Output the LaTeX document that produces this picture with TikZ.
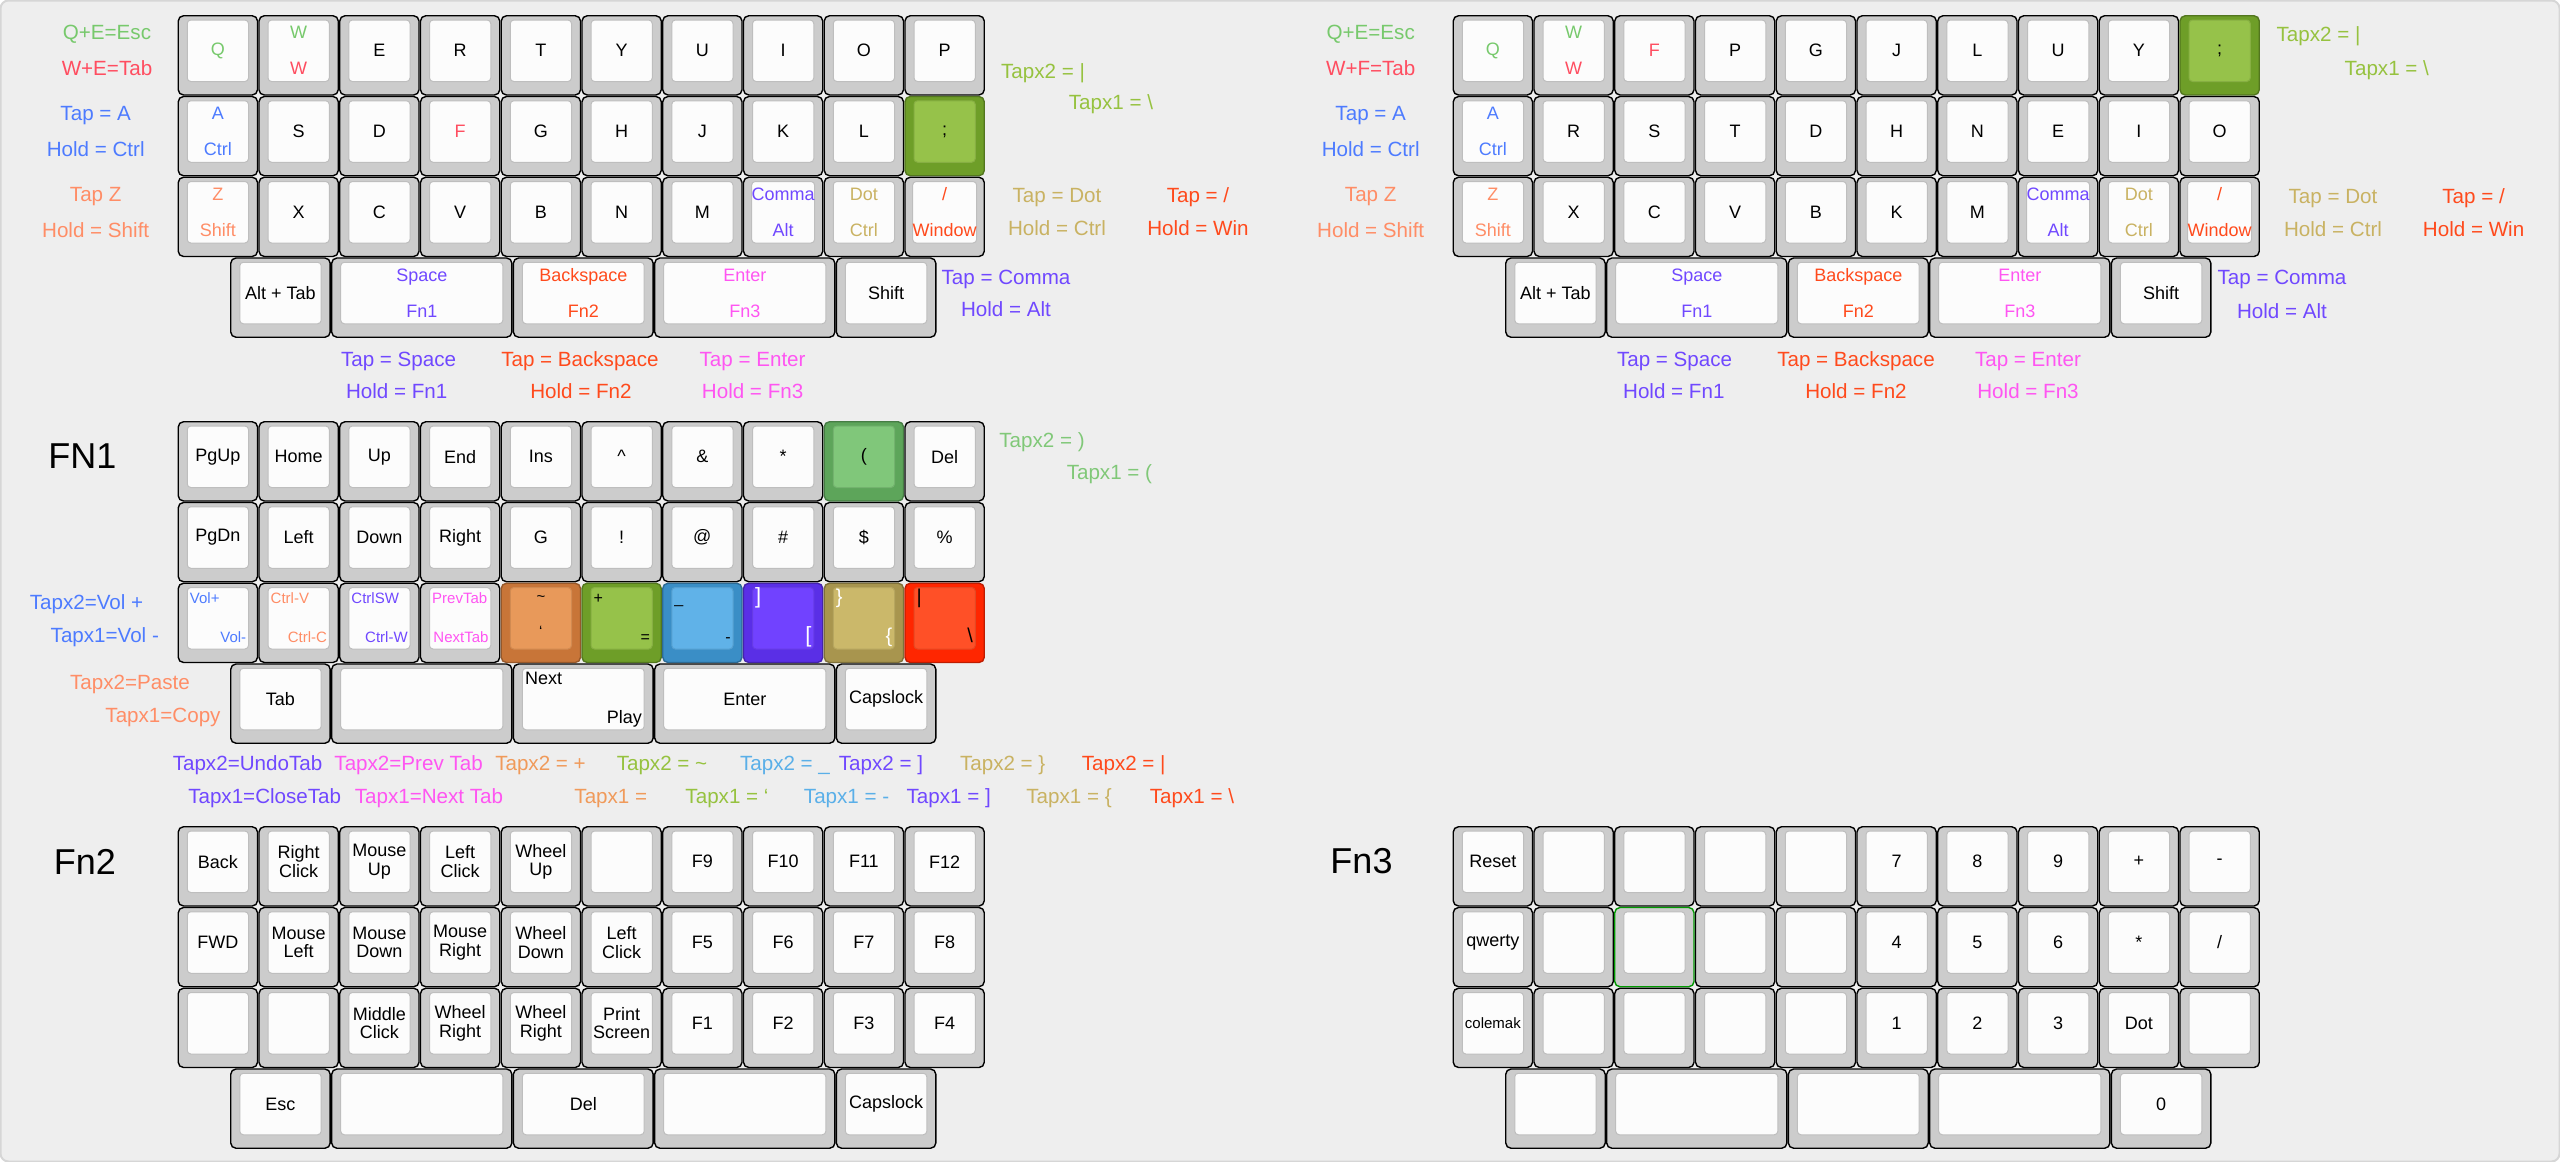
\documentclass[tikz,border=0pt]{standalone}
\usepackage{fontspec}
\setmainfont{Liberation Sans}
\usepackage{tikz}
\definecolor{bgGray}{HTML}{EEEEEE}
\definecolor{bgLine}{HTML}{D6D6D6}
\definecolor{keyGray}{HTML}{CCCCCC}
\definecolor{capWhite}{HTML}{FCFCFC}
\definecolor{capLine}{HTML}{BEBEBE}
\definecolor{tGreen}{HTML}{77C96C}
\definecolor{tPink}{HTML}{FF4D60}
\definecolor{tBlue}{HTML}{4D7BFF}
\definecolor{tSalmon}{HTML}{FF8D66}
\definecolor{tPurple}{HTML}{7048FF}
\definecolor{tTan}{HTML}{C9B262}
\definecolor{tRed}{HTML}{FF4A1C}
\definecolor{tMagenta}{HTML}{FF55F2}
\definecolor{tLime}{HTML}{96C23F}
\definecolor{tOrange}{HTML}{F09A5A}
\definecolor{tSky}{HTML}{5AAFE8}
\definecolor{tMint}{HTML}{80C878}
\definecolor{limeDark}{HTML}{6E9E28}
\definecolor{limeCap}{HTML}{96C24A}
\definecolor{mintDark}{HTML}{5DA55A}
\definecolor{mintCap}{HTML}{80C77A}
\definecolor{orangeDark}{HTML}{C87538}
\definecolor{orangeCap}{HTML}{E8995A}
\definecolor{skyDark}{HTML}{3A8EC6}
\definecolor{skyCap}{HTML}{60B2E8}
\definecolor{violetDark}{HTML}{5A2FE6}
\definecolor{violetCap}{HTML}{7142FF}
\definecolor{tanDark}{HTML}{A8954E}
\definecolor{tanCap}{HTML}{CBB86A}
\definecolor{redDark}{HTML}{FF2600}
\definecolor{redCap}{HTML}{FF5027}

\tikzset{
  keyo/.style={draw=black, line width=0.7pt, rounded corners=2.6pt, minimum height=39.6pt, inner sep=0pt},
  keyc/.style={line width=0.5pt, rounded corners=1.8pt, minimum height=30.75pt, inner sep=0pt,
    align=center, font=\fontsize{9}{9.2}\selectfont},
  ko-plain/.style={fill=keyGray}, kc-plain/.style={fill=capWhite, draw=capLine},
  ko-ring/.style={fill=keyGray, draw=green!60!black}, kc-ring/.style={fill=capWhite, draw=capLine},
  ko-lime/.style={fill=limeDark, draw=limeDark!75!black}, kc-lime/.style={fill=limeCap, draw=limeCap!90!black},
  ko-mint/.style={fill=mintDark, draw=mintDark!75!black}, kc-mint/.style={fill=mintCap, draw=mintCap!90!black},
  ko-orange/.style={fill=orangeDark, draw=orangeDark!75!black}, kc-orange/.style={fill=orangeCap, draw=orangeCap!90!black},
  ko-sky/.style={fill=skyDark, draw=skyDark!75!black}, kc-sky/.style={fill=skyCap, draw=skyCap!90!black},
  ko-violet/.style={fill=violetDark, draw=violetDark!75!black}, kc-violet/.style={fill=violetCap, draw=violetCap!90!black},
  ko-tan/.style={fill=tanDark, draw=tanDark!75!black}, kc-tan/.style={fill=tanCap, draw=tanCap!90!black},
  ko-red/.style={fill=redDark, draw=redDark!75!black}, kc-red/.style={fill=redCap, draw=redCap!90!black},
  note/.style={font=\fontsize{10.3}{12}\selectfont, inner sep=0pt, text height=7.4pt, text depth=0.6pt},
  layer/.style={font=\fontsize{18}{20}\selectfont, inner sep=0pt, text height=12.9pt, text depth=0pt},
  legend/.style={font=\fontsize{7.5}{8}\selectfont, inner sep=0pt}
}

% key: [colours]{name}{left}{top}{width in u}{text}
\newcommand{\kb}[6][plain]{%
  \pgfmathsetmacro{\kw}{#5*80.75}%
  \node[keyo, ko-#1, minimum width=\kw*0.5pt-0.75pt] (#2-o) at ({#3+\kw/2},{#4+40.375}) {};
  \node[keyc, kc-#1, minimum width=\kw*0.5pt-9.75pt] (#2) at ({#3+\kw/2},{#4+35.75}) {#6};
}
\newcommand{\two}[4]{\textcolor{#1}{#2}\\[8.8pt]\textcolor{#3}{#4}}
\newcommand{\kcorner}[4][]{%
  \node[legend, anchor=mid west, #1] (#2-tl) at ([xshift=1.4pt, yshift=-5.8pt]#2.north west) {#3};
  \node[legend, anchor=mid east, #1] (#2-br) at ([xshift=-1.2pt, yshift=6pt]#2.south east) {#4};
}

\begin{document}
\begin{tikzpicture}[x=0.5pt, y=-0.5pt]
\useasboundingbox (0,0) rectangle (2560,1162);
\draw[bgLine, fill=bgGray, line width=1pt, rounded corners=4pt] (0.5,0.5) rectangle (2559.5,1161.5);

% qwerty
\kb{qa0}{177.5}{15}{1}{\textcolor{tGreen}{Q}}
\kb{qa1}{258.25}{15}{1}{\two{tGreen}{W}{tPink}{W}}
\foreach \t [count=\i from 2] in {E,R,T,Y,U,I,O,P}
  {\kb{qa\i}{177.5+\i*80.75}{15}{1}{\t}}
\kb{qb0}{177.5}{95.75}{1}{\two{tBlue}{A}{tBlue}{Ctrl}}
\foreach \t [count=\i] in {S,D,\textcolor{tPink}{F},G,H,J,K,L}
  {\kb{qb\i}{177.5+\i*80.75}{95.75}{1}{\t}}
\kb[lime]{qb9}{904.25}{95.75}{1}{;}
\kb{qc0}{177.5}{176.5}{1}{\two{tSalmon}{Z}{tSalmon}{Shift}}
\foreach \t [count=\i] in {X,C,V,B,N,M}
  {\kb{qc\i}{177.5+\i*80.75}{176.5}{1}{\t}}
\kb{qc7}{742.75}{176.5}{1}{\two{tPurple}{Comma}{tPurple}{Alt}}
\kb{qc8}{823.5}{176.5}{1}{\two{tTan}{Dot}{tTan}{Ctrl}}
\kb{qc9}{904.25}{176.5}{1}{\two{tRed}{/}{tRed}{Window}}
\kb{qd0}{230}{257.25}{1.25}{Alt + Tab}
\kb{qd1}{330.94}{257.25}{2.25}{\two{tPurple}{Space}{tPurple}{Fn1}}
\kb{qd2}{512.63}{257.25}{1.75}{\two{tRed}{Backspace}{tRed}{Fn2}}
\kb{qd3}{653.94}{257.25}{2.25}{\two{tMagenta}{Enter}{tMagenta}{Fn3}}
\kb{qd4}{835.63}{257.25}{1.25}{Shift}

\node[note, tGreen] (ql-esc) at (107,32.7) {Q+E=Esc};
\node[note, tPink] (ql-tab) at (107,69) {W+E=Tab};
\node[note, tBlue] (ql-tapa) at (95.7,114) {Tap = A};
\node[note, tBlue] (ql-holda) at (95.7,150) {Hold = Ctrl};
\node[note, tSalmon] (ql-tapz) at (95.7,195) {Tap Z};
\node[note, tSalmon] (ql-holdz) at (95.7,230.7) {Hold = Shift};
\node[note, tLime] (ql-semi2) at (1043,72) {Tapx2 = |};
\node[note, tLime] (ql-semi1) at (1111,103) {Tapx1 = \textbackslash};
\node[note, tTan] (ql-dot) at (1057,196) {Tap = Dot};
\node[note, tTan] (ql-dotc) at (1057,229) {Hold = Ctrl};
\node[note, tRed] (ql-sl) at (1198,196) {Tap = /};
\node[note, tRed] (ql-slw) at (1198,229) {Hold = Win};
\node[note, tPurple] (ql-com) at (1006,277.5) {Tap = Comma};
\node[note, tPurple] (ql-coma) at (1006,310) {Hold = Alt};
\node[note, tPurple] (ql-sp) at (398.6,359.3) {Tap = Space};
\node[note, tPurple] (ql-spf) at (396.7,391.7) {Hold = Fn1};
\node[note, tRed] (ql-bs) at (580,359.3) {Tap = Backspace};
\node[note, tRed] (ql-bsf) at (581,391.7) {Hold = Fn2};
\node[note, tMagenta] (ql-en) at (752.6,359.3) {Tap = Enter};
\node[note, tMagenta] (ql-enf) at (752.6,391.7) {Hold = Fn3};

% colemak
\kb{ca0}{1452.5}{15}{1}{\textcolor{tGreen}{Q}}
\kb{ca1}{1533.25}{15}{1}{\two{tGreen}{W}{tPink}{W}}
\kb{ca2}{1614}{15}{1}{\textcolor{tPink}{F}}
\foreach \t [count=\i from 3] in {P,G,J,L,U,Y}
  {\kb{ca\i}{1452.5+\i*80.75}{15}{1}{\t}}
\kb[lime]{ca9}{2179.25}{15}{1}{;}
\kb{cb0}{1452.5}{95.75}{1}{\two{tBlue}{A}{tBlue}{Ctrl}}
\foreach \t [count=\i] in {R,S,T,D,H,N,E,I,O}
  {\kb{cb\i}{1452.5+\i*80.75}{95.75}{1}{\t}}
\kb{cc0}{1452.5}{176.5}{1}{\two{tSalmon}{Z}{tSalmon}{Shift}}
\foreach \t [count=\i] in {X,C,V,B,K,M}
  {\kb{cc\i}{1452.5+\i*80.75}{176.5}{1}{\t}}
\kb{cc7}{2017.75}{176.5}{1}{\two{tPurple}{Comma}{tPurple}{Alt}}
\kb{cc8}{2098.5}{176.5}{1}{\two{tTan}{Dot}{tTan}{Ctrl}}
\kb{cc9}{2179.25}{176.5}{1}{\two{tRed}{/}{tRed}{Window}}
\kb{cd0}{1505}{257.25}{1.25}{Alt + Tab}
\kb{cd1}{1605.94}{257.25}{2.25}{\two{tPurple}{Space}{tPurple}{Fn1}}
\kb{cd2}{1787.63}{257.25}{1.75}{\two{tRed}{Backspace}{tRed}{Fn2}}
\kb{cd3}{1928.94}{257.25}{2.25}{\two{tMagenta}{Enter}{tMagenta}{Fn3}}
\kb{cd4}{2110.63}{257.25}{1.25}{Shift}

\node[note, tGreen] (cl-esc) at (1370.7,32.7) {Q+E=Esc};
\node[note, tPink] (cl-tab) at (1370.7,69) {W+F=Tab};
\node[note, tBlue] (cl-tapa) at (1370.7,114) {Tap = A};
\node[note, tBlue] (cl-holda) at (1370.7,150) {Hold = Ctrl};
\node[note, tSalmon] (cl-tapz) at (1370.7,195) {Tap Z};
\node[note, tSalmon] (cl-holdz) at (1370.7,231) {Hold = Shift};
\node[note, tLime] (cl-semi2) at (2318.5,35) {Tapx2 = |};
\node[note, tLime] (cl-semi1) at (2386.8,68.3) {Tapx1 = \textbackslash};
\node[note, tTan] (cl-dot) at (2333,197) {Tap = Dot};
\node[note, tTan] (cl-dotc) at (2333,230) {Hold = Ctrl};
\node[note, tRed] (cl-sl) at (2473.6,197) {Tap = /};
\node[note, tRed] (cl-slw) at (2473.6,230) {Hold = Win};
\node[note, tPurple] (cl-com) at (2282,278) {Tap = Comma};
\node[note, tPurple] (cl-coma) at (2282,311.7) {Hold = Alt};
\node[note, tPurple] (cl-sp) at (1674.6,359.3) {Tap = Space};
\node[note, tPurple] (cl-spf) at (1673.8,392) {Hold = Fn1};
\node[note, tRed] (cl-bs) at (1856,359.3) {Tap = Backspace};
\node[note, tRed] (cl-bsf) at (1856,392) {Hold = Fn2};
\node[note, tMagenta] (cl-en) at (2028,359.3) {Tap = Enter};
\node[note, tMagenta] (cl-enf) at (2028,392) {Hold = Fn3};

% FN1
\node[layer] (fn1) at (82.5,456) {FN1};
\foreach \t [count=\i from 0] in {PgUp,Home,Up,End,Ins,\textasciicircum,\&,*}
  {\kb{fa\i}{177.5+\i*80.75}{421}{1}{\t}}
\kb[mint]{fa8}{823.5}{421}{1}{(}
\kb{fa9}{904.25}{421}{1}{Del}
\foreach \t [count=\i from 0] in {PgDn,Left,Down,Right,G,!,@,\#,\$,\%}
  {\kb{fb\i}{177.5+\i*80.75}{501.75}{1}{\t}}
\kb{fc0}{177.5}{582.5}{1}{}
\kcorner[tBlue]{fc0}{Vol+}{Vol-}
\kb{fc1}{258.25}{582.5}{1}{}
\kcorner[tSalmon]{fc1}{Ctrl-V}{Ctrl-C}
\kb{fc2}{339}{582.5}{1}{}
\kcorner[tPurple]{fc2}{CtrlSW}{Ctrl-W}
\kb{fc3}{419.75}{582.5}{1}{}
\kcorner[tMagenta]{fc3}{PrevTab}{NextTab}
\kb[orange]{fc4}{500.5}{582.5}{1}{}
\node[legend] (fc4-t) at ([yshift=9.9pt]fc4.center) {\textasciitilde};
\node[legend] (fc4-b) at ([yshift=-6.5pt]fc4.center) {\char"60};
\kb[lime]{fc5}{581.25}{582.5}{1}{}
\kcorner[font=\fontsize{8}{8}\selectfont]{fc5}{+}{=}
\kb[sky]{fc6}{662}{582.5}{1}{}
\kcorner[font=\fontsize{8}{8}\selectfont]{fc6}{\_}{-}
\kb[violet]{fc7}{742.75}{582.5}{1}{}
\kcorner[white, font=\fontsize{11}{11}\selectfont]{fc7}{]}{[}
\kb[tan]{fc8}{823.5}{582.5}{1}{}
\kcorner[white, font=\fontsize{10}{10}\selectfont]{fc8}{\}}{\{}
\kb[red]{fc9}{904.25}{582.5}{1}{}
\kcorner[font=\fontsize{10}{10}\selectfont]{fc9}{|}{\textbackslash}
\kb{fd0}{230}{663.25}{1.25}{Tab}
\kb{fd1}{330.94}{663.25}{2.25}{}
\kb{fd2}{512.63}{663.25}{1.75}{}
\kcorner[font=\fontsize{9}{9}\selectfont]{fd2}{Next}{Play}
\kb{fd3}{653.94}{663.25}{2.25}{Enter}
\kb{fd4}{835.63}{663.25}{1.25}{Capslock}

\node[note, tMint] (fl-par2) at (1042,441) {Tapx2 = )};
\node[note, tMint] (fl-par1) at (1109.4,472.7) {Tapx1 = (};
\node[note, tBlue] (fl-vol2) at (86.5,602.3) {Tapx2=Vol +};
\node[note, tBlue] (fl-vol1) at (104.8,635.3) {Tapx1=Vol -};
\node[note, tSalmon] (fl-cp2) at (130,682.7) {Tapx2=Paste};
\node[note, tSalmon] (fl-cp1) at (163,716) {Tapx1=Copy};
\node[note, tPurple] (fl-sw2) at (247.5,764) {Tapx2=UndoTab};
\node[note, tMagenta] (fl-tb2) at (408.6,764) {Tapx2=Prev Tab};
\node[note, tOrange] (fl-or2) at (540.5,764) {Tapx2 = +};
\node[note, tLime] (fl-li2) at (662,764) {Tapx2 = \textasciitilde};
\node[note, tSky] (fl-sk2) at (785,764) {Tapx2 = \_};
\node[note, tPurple] (fl-vi2) at (881,764) {Tapx2 = ]};
\node[note, tTan] (fl-ta2) at (1002.7,764) {Tapx2 = \}};
\node[note, tRed] (fl-re2) at (1123.7,764) {Tapx2 = |};
\node[note, tPurple] (fl-sw1) at (264.7,796.7) {Tapx1=CloseTab};
\node[note, tMagenta] (fl-tb1) at (429,796.7) {Tapx1=Next Tab};
\node[note, tOrange] (fl-or1) at (610.8,796.7) {Tapx1 =};
\node[note, tLime] (fl-li1) at (727,796.7) {Tapx1 = \char"60};
\node[note, tSky] (fl-sk1) at (846.6,796.7) {Tapx1 = -};
\node[note, tPurple] (fl-vi1) at (948.7,796.7) {Tapx1 = ]};
\node[note, tTan] (fl-ta1) at (1069,796.7) {Tapx1 = \{};
\node[note, tRed] (fl-re1) at (1192,796.7) {Tapx1 = \textbackslash};

% Fn2
\node[layer] (fn2) at (85,861.7) {Fn2};
\foreach \t [count=\i from 0] in {Back,Right\\Click,Mouse\\Up,Left\\Click,Wheel\\Up,{},F9,F10,F11,F12}
  {\kb{ma\i}{177.5+\i*80.75}{826}{1}{\t}}
\foreach \t [count=\i from 0] in {FWD,Mouse\\Left,Mouse\\Down,Mouse\\Right,Wheel\\Down,Left\\Click,F5,F6,F7,F8}
  {\kb{mb\i}{177.5+\i*80.75}{906.75}{1}{\t}}
\foreach \t [count=\i from 0] in {{},{},Middle\\Click,Wheel\\Right,Wheel\\Right,Print\\Screen,F1,F2,F3,F4}
  {\kb{mc\i}{177.5+\i*80.75}{987.5}{1}{\t}}
\kb{md0}{230}{1068.25}{1.25}{Esc}
\kb{md1}{330.94}{1068.25}{2.25}{}
\kb{md2}{512.63}{1068.25}{1.75}{Del}
\kb{md3}{653.94}{1068.25}{2.25}{}
\kb{md4}{835.63}{1068.25}{1.25}{Capslock}

% Fn3
\node[layer] (fn3) at (1361.5,861) {Fn3};
\foreach \t [count=\i from 0] in {Reset,{},{},{},{},7,8,9,+,-}
  {\kb{na\i}{1452.5+\i*80.75}{826}{1}{\t}}
\kb{nb0}{1452.5}{906.75}{1}{qwerty}
\kb{nb1}{1533.25}{906.75}{1}{}
\kb[ring]{nb2}{1614}{906.75}{1}{}
\foreach \t [count=\i from 3] in {{},{},4,5,6,*,/}
  {\kb{nb\i}{1452.5+\i*80.75}{906.75}{1}{\t}}
\kb{nc0}{1452.5}{987.5}{1}{{\fontsize{7.5}{9}\selectfont colemak}}
\foreach \t [count=\i] in {{},{},{},{},1,2,3,Dot,{}}
  {\kb{nc\i}{1452.5+\i*80.75}{987.5}{1}{\t}}
\kb{nd0}{1505}{1068.25}{1.25}{}
\kb{nd1}{1605.94}{1068.25}{2.25}{}
\kb{nd2}{1787.63}{1068.25}{1.75}{}
\kb{nd3}{1928.94}{1068.25}{2.25}{}
\kb{nd4}{2110.63}{1068.25}{1.25}{0}
\end{tikzpicture}
\end{document}
